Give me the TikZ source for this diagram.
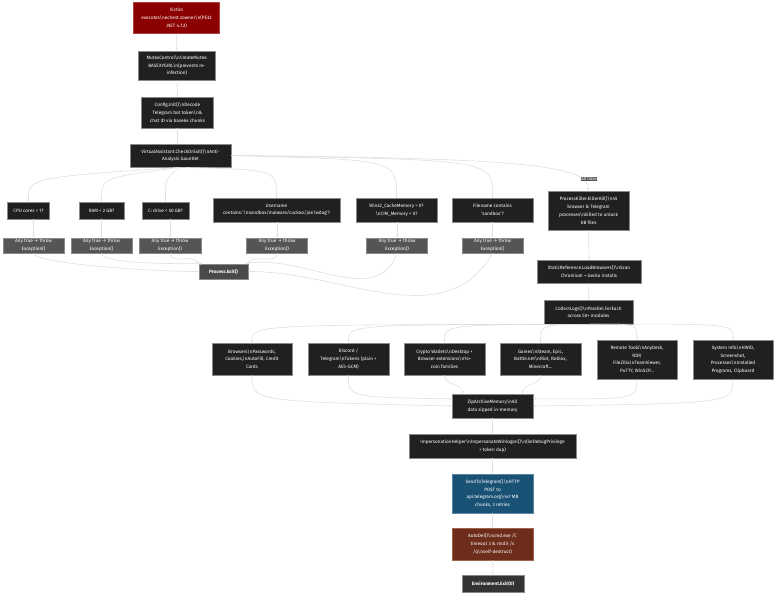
\documentclass[tikz,border=0pt]{standalone}
\usepackage{fontspec}
\setmainfont{Fira Sans}
\usetikzlibrary{arrows.meta,calc,positioning}
\definecolor{nodebg}{HTML}{1F2020}
\definecolor{boxline}{HTML}{8A8A8A}
\definecolor{anybg}{HTML}{555555}
\definecolor{exitbg}{HTML}{4A4A4A}
\definecolor{victimbg}{HTML}{8B0000}
\definecolor{victimline}{HTML}{B04040}
\definecolor{sendbg}{HTML}{1A5276}
\definecolor{sendline}{HTML}{5A86A6}
\definecolor{delbg}{HTML}{6E2C1A}
\definecolor{delline}{HTML}{A0644E}
\definecolor{envbg}{HTML}{333333}
\definecolor{edgegray}{HTML}{E0E0E0}
\newcommand{\bsn}{\textbackslash n}

\begin{document}
\begin{tikzpicture}[x=1pt,y=-1pt,
  box/.style={draw=boxline,fill=nodebg,text=white,align=center,inner sep=0pt,
    line width=0.6pt,font=\fontsize{4.7}{7.7}\selectfont},
  anybox/.style={box,fill=anybg,minimum width=61pt,minimum height=15pt},
  edge/.style={draw=edgegray,line width=0.6pt,-{Stealth[length=2.4pt,width=2.2pt]}},
  lbl/.style={fill=anybg,text=white,inner sep=0.8pt,font=\fontsize{4.3}{5}\selectfont}]
  \useasboundingbox[fill=white] (0,0) rectangle (784,602);

  % main chain
  \node[box,fill=victimbg,draw=victimline,minimum width=86pt,minimum height=31pt] (victim) at (176.5,18)
    {Victim\\executes\bsn echest.zowner\bsn(PE32\\.NET 4.7.2)};
  \node[box,minimum width=77pt,minimum height=29pt] (mutex) at (177,65.5)
    {MutexControl\bsn CreateMutex:\\BASEXYGIRL\bsn(prevents re-\\infection)};
  \node[box,minimum width=72pt,minimum height=31pt] (config) at (177.5,112.5)
    {Config.Init()\bsn Decode\\Telegram bot token\bsn\&\\chat ID via base64 chunks};
  \node[box,minimum width=101pt,minimum height=23pt] (va) at (180.5,155.5)
    {VirtualAssistant.CheckOrExit()\bsn Anti-\\Analysis Gauntlet};

  % checks
  \node[box,minimum width=42pt,minimum height=17pt] (cpu) at (28.5,210.5) {CPU cores < 1?};
  \node[box,minimum width=45pt,minimum height=17pt] (ram) at (101.5,210.5) {RAM < 2 GB?};
  \node[box,minimum width=47pt,minimum height=17pt] (cdrive) at (165.5,210.5) {C: drive < 50 GB?};
  \node[box,minimum width=127pt,minimum height=24pt] (user) at (276.5,210)
    {Username\\contains:'\bsn sandbox/malware/cuckoo/joe/wdag'?};
  \node[box,minimum width=81pt,minimum height=24pt] (win) at (396.5,210)
    {Win32\_CacheMemory = 0?\\\bsn CIM\_Memory = 0?};
  \node[box,minimum width=81pt,minimum height=24pt] (fname) at (492.5,210)
    {Filename contains\\'sandbox'?};
  \node[box,minimum width=81pt,minimum height=39pt] (pk) at (588.5,210.5)
    {ProcessKiller.KillerAll()\bsn 45\\browser \& Telegram\\processes\bsn killed to unlock\\DB files};

  \node[anybox] (any1) at (33.5,245.5) {Any true → throw\\Exception()};
  \node[anybox] (any2) at (101.5,245.5) {Any true → throw\\Exception()};
  \node[anybox,minimum width=62pt] (any3) at (170,245.5) {Any true → throw\\Exception()};
  \node[anybox] (any4) at (277,245.5) {Any true → throw\\Exception()};
  \node[anybox] (any5) at (397,245.5) {Any true → throw\\Exception()};
  \node[anybox] (any6) at (492.5,245.5) {Any true → throw\\Exception()};
  \node[box,fill=exitbg,minimum width=49pt,minimum height=15pt,font=\fontsize{4.7}{7.7}\selectfont\bfseries] (exit) at (223.5,271.5) {Process.Exit()};

  \node[box,minimum width=104pt,minimum height=23pt] (static) at (589,271.5)
    {StaticReference.LoadBrowsers()\bsn Scan\\Chromium + Gecko installs};
  \node[box,minimum width=89pt,minimum height=24pt] (collect) at (588.5,312)
    {CollectLogs()\bsn Parallel.ForEach\\across 50+ modules};

  % modules
  \node[box,minimum width=80pt,minimum height=32pt] (browsers) at (252,359)
    {Browsers\bsn Passwords,\\Cookies,\bsn AutoFill, Credit\\Cards};
  \node[box,minimum width=81pt,minimum height=32pt] (discord) at (348.5,359)
    {Discord /\\Telegram\bsn Tokens (plain +\\AES-GCM)};
  \node[box,minimum width=81pt,minimum height=32pt] (crypto) at (444.5,359)
    {Crypto Wallets\bsn Desktop +\\Browser extensions\bsn 14+\\coin families};
  \node[box,minimum width=81pt,minimum height=32pt] (games) at (540.5,359)
    {Games\bsn Steam, Epic,\\Battle.net\bsn Riot, Roblox,\\Minecraft…};
  \node[box,minimum width=80pt,minimum height=39pt] (remote) at (637,359.5)
    {Remote Tools\bsn AnyDesk,\\RDP,\\FileZilla\bsn TeamViewer,\\PuTTY, WinSCP…};
  \node[box,minimum width=80pt,minimum height=39pt] (sysinfo) at (733,359.5)
    {System Info\bsn HWID,\\Screenshot,\\Processes\bsn Installed\\Programs, Clipboard};

  \node[box,minimum width=81pt,minimum height=24pt] (zip) at (492.5,406)
    {ZipArchiveMemory\bsn All\\data zipped in-memory};
  \node[box,minimum width=167pt,minimum height=24pt] (imp) at (492.5,446)
    {ImpersonationHelper\bsn ImpersonateWinlogon()\bsn(SeDebugPrivilege\\+ token dup)};
  \node[box,fill=sendbg,draw=sendline,minimum width=81pt,minimum height=39pt] (send) at (492.5,493.5)
    {SendToTelegram()\bsn HTTP\\POST to\\api.telegram.org\bsn 47 MB\\chunks, 3 retries};
  \node[box,fill=delbg,draw=delline,minimum width=81pt,minimum height=32pt] (autodel) at (492.5,544)
    {AutoDel()\bsn cmd.exe /C\\timeout 3 \& rmdir /s\\/q\bsn self-destruct)};
  \node[box,fill=envbg,minimum width=62pt,minimum height=17pt,font=\fontsize{4.7}{7.7}\selectfont\bfseries] (envexit) at (493,583.5)
    {Environment.Exit(0)};

  % connectors
  \draw[edge] (victim) -- (mutex);
  \draw[edge] (mutex) -- (config);
  \draw[edge] (config.south) -- (config.south |- va.north);

  \draw[edge] (va.south) .. controls ($(cpu.north)+(0,-24)$) .. (cpu.north);
  \draw[edge] (va.south) .. controls ($(ram.north)+(0,-24)$) .. (ram.north);
  \draw[edge] (va.south) .. controls ($(cdrive.north)+(0,-24)$) .. (cdrive.north);
  \draw[edge] (va.south) .. controls ($(user.north)+(0,-28)$) .. (user.north);
  \draw[edge] (va.east) .. controls ($(win.north)+(0,-38)$) .. (win.north);
  \draw[edge] (va.east) .. controls ($(fname.north)+(0,-38)$) .. (fname.north);
  \draw[edge] (va.east) .. controls (520,158) and (589,165) .. (pk.north);
  \node[lbl] (allfalse) at (589,179) {All false};

  \draw[edge] (any1.north |- cpu.south) -- (any1.north);
  \draw[edge] (any2.north |- ram.south) -- (any2.north);
  \draw[edge] (any3.north |- cdrive.south) -- (any3.north);
  \draw[edge] (any4.north |- user.south) -- (any4.north);
  \draw[edge] (any5.north |- win.south) -- (any5.north);
  \draw[edge] (any6.north |- fname.south) -- (any6.north);

  \draw[edge] (any1.south) .. controls ($(any1.south)+(0,10)$) and ($(exit.west)+(-50,0)$) .. (exit.west);
  \draw[edge] (any2.south) .. controls ($(any2.south)+(0,10)$) and ($(exit.160)+(-40,0)$) .. (exit.160);
  \draw[edge] (any3.south) to[out=-90,in=120] (exit.north west);
  \draw[edge] (any4.south) to[out=-90,in=60] (exit.north east);
  \draw[edge] (any5.south) to[out=-110,in=10] (exit.20);
  \draw[edge] (any6.south) to[out=-120,in=0] (exit.east);

  \draw[edge] (pk) -- (static);
  \draw[edge] (static) -- (collect);

  \draw[edge] (collect.south) .. controls ($(browsers.north)+(0,-18)$) .. (browsers.north);
  \draw[edge] (collect.south) .. controls ($(discord.north)+(0,-18)$) .. (discord.north);
  \draw[edge] (collect.south) .. controls ($(crypto.north)+(0,-18)$) .. (crypto.north);
  \draw[edge] (collect.south) .. controls ($(games.north)+(0,-18)$) .. (games.north);
  \draw[edge] (collect.south) .. controls ($(remote.north)+(0,-16)$) .. (remote.north);
  \draw[edge] (collect.south) .. controls ($(sysinfo.north)+(0,-16)$) .. (sysinfo.north);

  \draw[edge] (browsers.south) .. controls ($(browsers.south)+(0,26)$) .. (zip.west);
  \draw[edge] (discord.south) .. controls ($(discord.south)+(0,22)$) .. (zip.170);
  \draw[edge] (crypto.south) to[out=-90,in=90] ($(zip.north)+(-30,0)$);
  \draw[edge] (games.south) to[out=-90,in=90] ($(zip.north)+(30,0)$);
  \draw[edge] (remote.south) .. controls ($(remote.south)+(0,20)$) .. (zip.10);
  \draw[edge] (sysinfo.south) .. controls ($(sysinfo.south)+(0,24)$) .. (zip.east);

  \draw[edge] (zip) -- (imp);
  \draw[edge] (imp) -- (send);
  \draw[edge] (send) -- (autodel);
  \draw[edge] (autodel) -- (envexit);
\end{tikzpicture}
\end{document}
